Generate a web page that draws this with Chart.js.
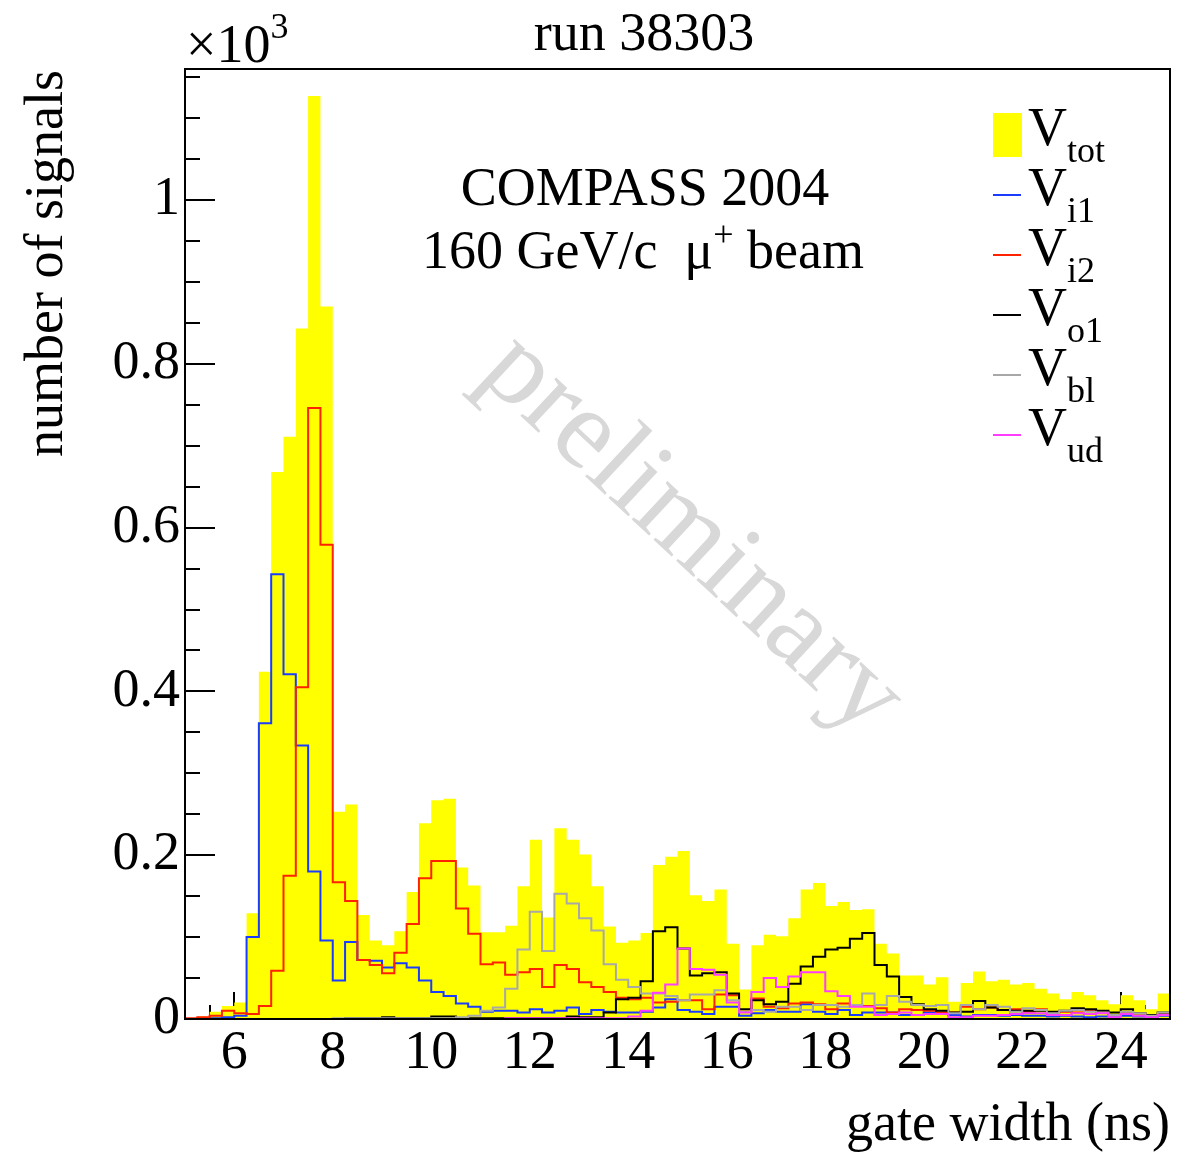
<!DOCTYPE html>
<html>
<head>
<meta charset="utf-8">
<title>run 38303</title>
<script src="https://cdn.jsdelivr.net/npm/chart.js@4.4.1/dist/chart.umd.min.js"></script>
<style>
  html, body { margin: 0; padding: 0; background: #fff; }
  canvas { display: block; }
</style>
</head>
<body>
<canvas id="gateChart" width="1201" height="1152"></canvas>
<script>
// Gate width binning (ns): 80 bins from 5 to 25
const binLow = 5;
const binWidth = 0.25;

// Number of signals per bin
const vTot = [1, 3, 9, 16, 20, 129, 424, 668, 711, 843,
  1127, 870, 253, 262, 127, 96, 90, 107, 155, 239,
  267, 269, 185, 163, 106, 106, 114, 162, 219, 124,
  233, 219, 201, 162, 113, 93, 96, 105, 188, 198,
  205, 151, 144, 158, 92, 36, 90, 103, 101, 123,
  158, 166, 138, 143, 133, 134, 92, 80, 53, 53,
  42, 51, 21, 44, 58, 46, 48, 42, 44, 37,
  31, 24, 33, 29, 23, 18, 29, 23, 12, 31];

const vI1 = [0, 0, 1, 2, 4, 100, 361, 543, 421, 334,
  180, 96, 47, 94, 72, 71, 63, 68, 63, 47,
  33, 28, 19, 15, 9, 10, 10, 8, 12, 8,
  10, 14, 6, 11, 9, 8, 8, 9, 14, 24,
  11, 9, 6, 15, 15, 4, 7, 11, 9, 9,
  18, 9, 6, 11, 5, 8, 8, 8, 5, 5,
  8, 6, 5, 3, 5, 5, 4, 5, 4, 4,
  3, 4, 3, 2, 3, 4, 4, 3, 2, 4];

const vI2 = [1, 2, 4, 10, 7, 6, 16, 59, 175, 405,
  746, 579, 167, 144, 72, 66, 56, 81, 116, 172,
  193, 193, 135, 104, 67, 69, 54, 57, 61, 39,
  66, 61, 45, 39, 33, 26, 24, 26, 20, 21,
  23, 23, 12, 30, 29, 9, 25, 15, 13, 19,
  20, 18, 12, 19, 17, 16, 13, 8, 12, 11,
  10, 8, 8, 15, 12, 14, 11, 12, 9, 12,
  7, 9, 8, 10, 9, 5, 8, 7, 5, 7];

const vO1 = [0, 0, 0, 0, 0, 0, 0, 0, 0, 0,
  0, 0, 0, 1, 1, 1, 2, 1, 1, 1,
  3, 3, 1, 1, 1, 1, 1, 1, 1, 1,
  1, 3, 2, 2, 8, 24, 26, 46, 107, 112,
  86, 53, 56, 57, 31, 12, 23, 18, 21, 43,
  64, 76, 85, 87, 98, 105, 66, 52, 27, 18,
  12, 10, 8, 9, 22, 14, 11, 10, 10, 10,
  9, 10, 13, 12, 10, 8, 12, 7, 5, 8];

const vBl = [0, 0, 0, 0, 0, 0, 0, 0, 0, 0,
  0, 0, 1, 1, 1, 1, 1, 1, 1, 1,
  1, 1, 2, 4, 10, 14, 37, 85, 131, 83,
  153, 141, 123, 108, 67, 48, 39, 31, 31, 28,
  23, 30, 30, 35, 23, 9, 11, 9, 15, 15,
  11, 17, 17, 15, 17, 31, 17, 28, 21, 17,
  16, 17, 7, 17, 12, 17, 15, 9, 13, 11,
  7, 10, 11, 9, 8, 5, 9, 7, 4, 8];

const vUd = [0, 0, 0, 0, 0, 0, 0, 0, 0, 0,
  0, 0, 0, 0, 0, 0, 0, 0, 0, 0,
  0, 0, 0, 0, 0, 0, 1, 1, 1, 1,
  1, 1, 1, 1, 1, 1, 3, 10, 32, 42,
  86, 61, 60, 54, 20, 8, 33, 50, 39, 52,
  57, 57, 34, 28, 15, 15, 5, 6, 8, 5,
  6, 6, 2, 2, 4, 4, 5, 6, 7, 7,
  5, 5, 7, 6, 7, 2, 6, 4, 2, 5];

// Legend subscripts, in dataset order
const seriesSubs = ['tot', 'i1', 'i2', 'o1', 'bl', 'ud'];

// Axis ticks
const xTickValues = [6, 8, 10, 12, 14, 16, 18, 20, 22, 24];
const yTickValues = [0, 200, 400, 600, 800, 1000];

const serif = "'Liberation Serif', 'Times New Roman', serif";

// turn bin contents into step points (low edge of each bin + closing edge)
function histPoints(counts) {
  const pts = counts.map((c, i) => ({ x: binLow + i * binWidth, y: c }));
  pts.push({ x: binLow + counts.length * binWidth, y: counts[counts.length - 1] });
  return pts;
}

function histLine(label, counts, color, order) {
  return {
    label: label,
    data: histPoints(counts),
    stepped: true,
    borderColor: color,
    backgroundColor: color,
    borderWidth: 2,
    fill: false,
    pointRadius: 0,
    order: order
  };
}

const datasets = [
  {
    label: 'V_tot',
    data: histPoints(vTot),
    stepped: true,
    borderWidth: 0,
    borderColor: 'rgba(0,0,0,0)',
    backgroundColor: '#ffff00',
    fill: 'origin',
    pointRadius: 0,
    order: 6
  },
  histLine('V_i1', vI1, '#1a3cff', 5),
  histLine('V_i2', vI2, '#ff2200', 4),
  histLine('V_o1', vO1, '#000000', 3),
  histLine('V_bl', vBl, '#a8a8a8', 2),
  histLine('V_ud', vUd, '#ff3cff', 1)
];

// text with a raised / lowered small part, returns the advance width
function drawScript(ctx, base, small, x, y, size, smallSize, shift) {
  ctx.font = `${size}px ${serif}`;
  ctx.fillText(base, x, y);
  const w = ctx.measureText(base).width;
  ctx.font = `${smallSize}px ${serif}`;
  ctx.fillText(small, x + w, y + shift);
  return w + ctx.measureText(small).width;
}

const rootStyle = {
  id: 'rootStyle',
  beforeDatasetsDraw(chart) {
    const ctx = chart.ctx;
    const xs = chart.scales.x, ys = chart.scales.y;
    const a = chart.chartArea;

    // watermark
    ctx.save();
    ctx.translate(690, 537);
    ctx.rotate(43 * Math.PI / 180);
    ctx.font = `114px ${serif}`;
    ctx.fillStyle = '#d8d8d8';
    ctx.textAlign = 'center';
    ctx.textBaseline = 'alphabetic';
    ctx.fillText('preliminary', 0, 27);
    ctx.restore();

    // tick marks pointing into the frame
    ctx.save();
    ctx.strokeStyle = '#000';
    ctx.lineWidth = 2;
    ctx.beginPath();
    for (let v = xs.min + 0.5; v < xs.max; v += 0.5) {
      const px = Math.round(xs.getPixelForValue(v));
      const len = xTickValues.includes(v) ? 27 : 14;
      ctx.moveTo(px, a.bottom);
      ctx.lineTo(px, a.bottom - len);
    }
    for (let v = 50; v < ys.max; v += 50) {
      const py = Math.round(ys.getPixelForValue(v));
      const len = yTickValues.includes(v) ? 30 : 15;
      ctx.moveTo(a.left, py);
      ctx.lineTo(a.left + len, py);
    }
    ctx.stroke();
    ctx.restore();
  },
  afterDatasetsDraw(chart) {
    const ctx = chart.ctx;
    const a = chart.chartArea;

    // frame
    ctx.save();
    ctx.strokeStyle = '#000';
    ctx.lineWidth = 2;
    ctx.strokeRect(a.left, a.top, a.right - a.left, a.bottom - a.top);
    ctx.restore();

    // legend with subscripted labels
    ctx.save();
    ctx.fillStyle = '#000';
    ctx.textAlign = 'left';
    ctx.textBaseline = 'alphabetic';
    chart.data.datasets.forEach((ds, i) => {
      const cy = 135 + 60 * i;
      if (ds.fill) {
        ctx.fillStyle = ds.backgroundColor;
        ctx.fillRect(993, cy - 22, 29, 44);
      } else {
        ctx.strokeStyle = ds.borderColor;
        ctx.lineWidth = 2;
        ctx.beginPath();
        ctx.moveTo(993, cy);
        ctx.lineTo(1021, cy);
        ctx.stroke();
      }
      ctx.fillStyle = '#000';
      drawScript(ctx, 'V', seriesSubs[i], 1028, 145 + 60 * i, 54, 36, 17);
    });
    ctx.restore();
  },
  afterDraw(chart) {
    const ctx = chart.ctx;
    ctx.save();
    ctx.fillStyle = '#000';
    ctx.textBaseline = 'alphabetic';

    // title
    ctx.font = `54px ${serif}`;
    ctx.textAlign = 'center';
    ctx.fillText('run 38303', 644, 50);

    // experiment text
    ctx.fillText('COMPASS 2004', 645, 205);
    ctx.textAlign = 'left';
    const p1 = '160 GeV/c  \u03bc', p3 = ' beam';
    ctx.font = `54px ${serif}`;
    const w1 = ctx.measureText(p1).width, w3 = ctx.measureText(p3).width;
    ctx.font = `36px ${serif}`;
    const w2 = ctx.measureText('+').width;
    let x0 = 643 - (w1 + w2 + w3) / 2;
    drawScript(ctx, p1, '+', x0, 268, 54, 36, -22);
    ctx.font = `54px ${serif}`;
    ctx.fillText(p3, x0 + w1 + w2, 268);

    // axis multiplier
    drawScript(ctx, '\u00d710', '3', 186, 62, 54, 36, -24);

    // axis titles
    ctx.font = `54px ${serif}`;
    ctx.textAlign = 'right';
    ctx.fillText('gate width (ns)', 1170, 1140);
    ctx.translate(62, 70);
    ctx.rotate(-Math.PI / 2);
    ctx.fillText('number of signals', 0, 0);
    ctx.restore();
  }
};

new Chart(document.getElementById('gateChart'), {
  type: 'line',
  data: { datasets: datasets },
  options: {
    responsive: false,
    animation: false,
    events: [],
    layout: { padding: { left: 0, right: 31, top: 69, bottom: 0 } },
    plugins: {
      legend: { display: false },
      tooltip: { enabled: false }
    },
    scales: {
      x: {
        type: 'linear',
        min: 5,
        max: 25,
        grid: { display: false, drawTicks: false },
        border: { display: false },
        ticks: {
          font: { family: serif, size: 54 },
          color: '#000',
          padding: 2,
          maxRotation: 0,
          autoSkip: false
        },
        afterBuildTicks: s => { s.ticks = xTickValues.map(v => ({ value: v })); },
        afterFit: s => { s.height = 133; }
      },
      y: {
        type: 'linear',
        min: 0,
        max: 1160,
        grid: { display: false, drawTicks: false },
        border: { display: false },
        ticks: {
          font: { family: serif, size: 54 },
          color: '#000',
          padding: 5,
          autoSkip: false,
          callback: v => String(v / 1000)
        },
        afterBuildTicks: s => { s.ticks = yTickValues.map(v => ({ value: v })); },
        afterFit: s => { s.width = 185; }
      }
    }
  },
  plugins: [rootStyle]
});
</script>
</body>
</html>
